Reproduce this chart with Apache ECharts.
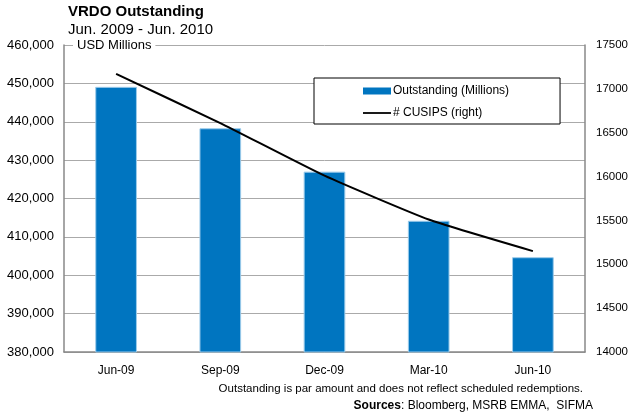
<!DOCTYPE html>
<html>
<head>
<meta charset="utf-8">
<script src="https://cdn.jsdelivr.net/npm/echarts@6/dist/echarts.min.js"></script>
<style>
html,body{margin:0;padding:0;background:#fff;}
#c{width:631px;height:419px;}
</style>
</head>
<body>
<div id="c"></div>
<script>
const categories = ['Jun-09', 'Sep-09', 'Dec-09', 'Mar-10', 'Jun-10'];
const outstanding = [449100, 438300, 427000, 414200, 404700];
const cusips = [17170, 16610, 16010, 15510, 15150];
const leftTicks = { min: 380000, max: 460000, interval: 10000 };
const rightTicks = { min: 14000, max: 17500, interval: 500 };

const FONT = '"Liberation Sans", Arial, sans-serif';
const chart = echarts.init(document.getElementById('c'));
chart.setOption({
  animation: false,
  backgroundColor: '#fff',
  textStyle: { fontFamily: FONT },
  title: {
    text: 'VRDO Outstanding',
    subtext: 'Jun. 2009 - Jun. 2010',
    left: 68, top: 4, itemGap: 3,
    textStyle: { fontFamily: FONT, fontSize: 15, fontWeight: 'bold', color: '#000' },
    subtextStyle: { fontFamily: FONT, fontSize: 15, color: '#000' },
    padding: 0
  },
  legend: {
    orient: 'vertical',
    left: 314, top: 78,
    padding: [7, 51, 5, 49],
    backgroundColor: '#fff',
    borderColor: '#000', borderWidth: 1,
    itemWidth: 28, itemHeight: 7, itemGap: 10,
    textStyle: { fontFamily: FONT, fontSize: 12, color: '#000', padding: [0,0,0,-3] },
    data: [
      { name: 'Outstanding (Millions)', icon: 'rect', itemStyle: { borderWidth: 0 } },
      { name: '# CUSIPS (right)', icon: 'path://M0,0M28,0M0,7M28,7M0,2.6L28,2.6L28,4.4L0,4.4Z' }
    ]
  },
  grid: { left: 64, right: 46, top: 45, bottom: 67, containLabel: false },
  xAxis: {
    type: 'category',
    data: categories,
    axisLine: { lineStyle: { color: '#888', width: 1.5 } },
    axisTick: { show: false },
    axisLabel: { color: '#000', fontSize: 12, margin: 13, fontFamily: FONT }
  },
  yAxis: [
    {
      type: 'value', min: leftTicks.min, max: leftTicks.max, interval: leftTicks.interval,
      axisLine: { show: true, lineStyle: { color: '#888', width: 1.5 } },
      axisTick: { show: false },
      splitLine: { lineStyle: { color: '#aaa', width: 1 } },
      axisLabel: { color: '#000', fontSize: 13, margin: 10, fontFamily: FONT,
        formatter: v => v.toLocaleString('en-US') }
    },
    {
      type: 'value', min: rightTicks.min, max: rightTicks.max, interval: rightTicks.interval,
      position: 'right',
      axisLine: { show: true, lineStyle: { color: '#888', width: 1.5 } },
      axisTick: { show: false },
      splitLine: { show: false },
      axisLabel: { color: '#000', fontSize: 11.5, margin: 11, fontFamily: FONT,
        formatter: v => String(v) }
    }
  ],
  series: [
    {
      name: 'Outstanding (Millions)',
      type: 'bar',
      yAxisIndex: 0,
      data: outstanding,
      barWidth: '40%',
      itemStyle: { color: '#0075C0', borderColor: '#9CCBEA', borderWidth: 1 }
    },
    {
      name: '# CUSIPS (right)',
      type: 'line',
      yAxisIndex: 1,
      data: cusips,
      symbol: 'none',
      smooth: 0.15,
      lineStyle: { color: '#000', width: 2 },
      itemStyle: { color: '#000' }
    }
  ],
  graphic: [
    {
      type: 'text', left: 73, top: 39, z: 100,
      style: { text: 'USD Millions', font: '13px ' + FONT, fill: '#000', lineHeight: 13,
        backgroundColor: '#fff', padding: [0, 4, 0, 4] }
    },
    {
      type: 'text', right: 48, top: 383,
      style: { text: 'Outstanding is par amount and does not reflect scheduled redemptions.',
        font: '11.5px ' + FONT, fill: '#000' }
    },
    {
      type: 'text', right: 38, top: 400,
      style: {
        text: '{b|Sources}: Bloomberg, MSRB EMMA,  SIFMA',
        font: '12px ' + FONT, fill: '#000',
        rich: { b: { fontWeight: 'bold', fontSize: 12, fontFamily: FONT } }
      }
    }
  ]
});
</script>
</body>
</html>
